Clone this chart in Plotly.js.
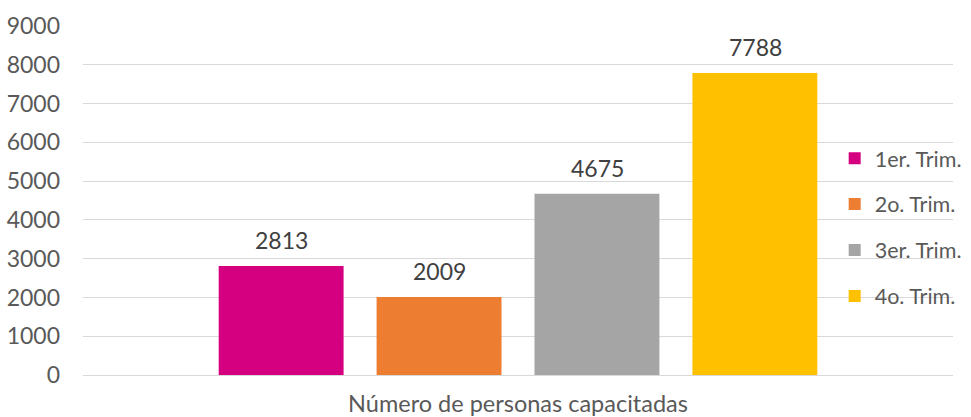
<!DOCTYPE html>
<html><head><meta charset="utf-8">
<script src="https://cdn.plot.ly/plotly-3.0.1.min.js"></script>
<style>html,body{margin:0;padding:0;background:#fff}</style>
</head><body><div id="chart" style="width:971px;height:417px"></div>
<script>
const category = ["Número de personas capacitadas"];
const seriesNames = ["1er. Trim.", "2o. Trim.", "3er. Trim.", "4o. Trim."];
const seriesValues = [2813, 2009, 4675, 7788];
const seriesColors = ["#D5007F", "#ED7D31", "#A5A5A5", "#FFC000"];
const yTicks = [0,1000,2000,3000,4000,5000,6000,7000,8000,9000];

const font = "Lato, 'Open Sans', sans-serif";
const traces = seriesNames.map((n,i)=>({
  type:'bar', name:n, x:category, y:[seriesValues[i]],
  marker:{color:seriesColors[i]}, legendgroup:'g'+i, hoverinfo:'skip'
}));
const slot = 158;
const annotations = seriesValues.map((v,i)=>({
  x: category[0], y: v, xref:'x', yref:'y', text:String(v), showarrow:false,
  xshift:(i-1.5)*slot, yshift:26, font:{family:font,size:23,color:'#404040'}
}));
const layout = {
  width:971, height:417,
  margin:{l:83, r:18, t:26, b:42, autoexpand:false},
  paper_bgcolor:'#fff', plot_bgcolor:'#fff',
  barmode:'group', bargap:0.274, bargroupgap:0.209,
  font:{family:font, size:23, color:'#595959'},
  xaxis:{type:'category', showgrid:false, showline:false, ticks:'', ticklabelstandoff:12, tickfont:{size:23.5,color:'#595959'}, automargin:false},
  yaxis:{range:[0,9000], tickvals:yTicks, showgrid:true, gridcolor:'#D9D9D9', gridwidth:1,
         zeroline:true, zerolinecolor:'#D9D9D9', zerolinewidth:1, ticks:'', ticklabelstandoff:22,
         tickfont:{size:23,color:'#595959'}, automargin:false, fixedrange:true},
  showlegend:true,
  legend:{x:0.864, y:0.68, xanchor:'left', yanchor:'top', bgcolor:'rgba(0,0,0,0)',
          traceorder:'grouped', tracegroupgap:15, font:{size:21.5,color:'#595959'}, itemwidth:30},
  annotations: annotations
};
Plotly.newPlot('chart', traces, layout, {displayModeBar:false, staticPlot:true});
</script></body></html>
